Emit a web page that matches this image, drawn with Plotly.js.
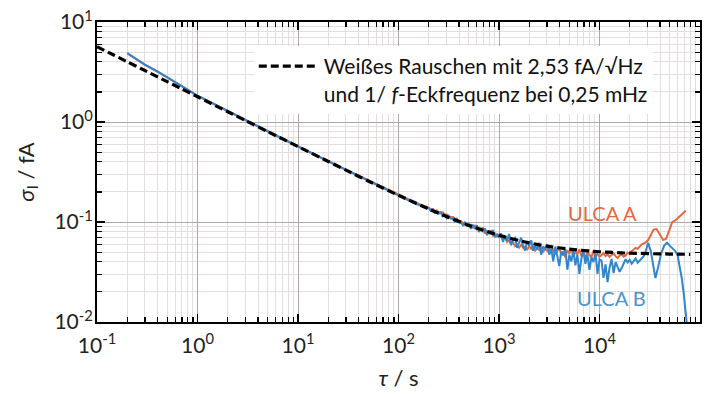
<!DOCTYPE html>
<html>
<head>
<meta charset="utf-8">
<script src="https://cdn.plot.ly/plotly-3.0.1.min.js"></script>
<style>html,body{margin:0;padding:0;background:#fff;}#chart{width:713px;height:397px;}</style>
</head>
<body>
<div id="chart"></div>
<script>
// Dashed reference curve: white noise 2.53 fA/sqrt(Hz), 1/f corner 0.25 mHz
const modelTau = [0.1, 0.15, 0.2, 0.3, 0.5, 0.7, 1, 2, 3, 5, 10, 20, 30, 50, 100, 200, 300, 500, 1000, 2000, 3000, 5000, 10000, 20000, 50000, 80000];
const modelSigma = [5.66, 4.62, 4.00, 3.27, 2.53, 2.14, 1.79, 1.266, 1.034, 0.801, 0.568, 0.403, 0.330, 0.257, 0.185, 0.135, 0.1135, 0.0928, 0.0736, 0.0618, 0.0573, 0.0535, 0.0504, 0.0488, 0.0478, 0.0475];

// ULCA B (blue)
const tauB = [0.2, 0.25, 0.3, 0.4, 0.5, 0.7, 1, 1.5, 2, 3, 5, 7, 10, 15, 20, 30, 50, 70, 100, 150,
  200, 209, 219, 229, 240, 251, 263, 275, 288, 302, 316, 331, 347, 363, 380, 398, 417, 437, 457, 479,
  501, 525, 550, 575, 603, 631, 661, 692, 724, 759, 794, 832, 871, 912, 955,
  1000, 1047, 1096, 1148, 1202, 1259, 1318, 1380, 1445, 1514, 1585, 1660, 1738, 1820, 1905, 1995,
  2089, 2188, 2291, 2399, 2512, 2630, 2754, 2884, 3020, 3162, 3311, 3467, 3631, 3802, 3981,
  4169, 4365, 4571, 4786, 5012, 5248, 5495, 5754, 6026, 6310, 6607, 6918, 7244, 7586, 7943,
  8318, 8710, 9120, 9550, 10000, 10471, 10965, 11482, 12023, 12589, 13183, 13804, 14454, 15136, 15849,
  16596, 17378, 18197, 19055, 19953, 20893, 21878, 22909, 23988, 25119, 26303, 27542, 28840,
  30500, 32500, 34500, 36000, 38000, 41000, 44000, 47000, 50000, 53000, 57000, 60000, 63000, 66000, 69000, 72000, 74000];
const sigmaB = [4.9, 4.25, 3.75, 3.2, 2.78, 2.28, 1.84, 1.49, 1.285, 1.04, 0.805, 0.678, 0.568, 0.465, 0.403, 0.330, 0.256, 0.217, 0.184, 0.151,
  0.1377, 0.1298, 0.1336, 0.1234, 0.1259, 0.1211, 0.1247, 0.1142, 0.1178, 0.1087, 0.1144, 0.1079, 0.1081, 0.1009, 0.1073, 0.0993, 0.0995, 0.0928, 0.0989, 0.0916,
  0.0947, 0.0857, 0.0942, 0.0856, 0.0929, 0.0794, 0.0857, 0.0794, 0.0864, 0.0738, 0.0815, 0.0756, 0.0829, 0.0704, 0.0753,
  0.0699, 0.0770, 0.0631, 0.0722, 0.0650, 0.0759, 0.0587, 0.0667, 0.0693, 0.0553, 0.0631, 0.0696, 0.0573, 0.0517, 0.0643, 0.0581,
  0.0656, 0.0516, 0.0577, 0.0530, 0.0621, 0.0469, 0.0570, 0.0531, 0.0596, 0.0472, 0.0536, 0.0404, 0.0568, 0.0442, 0.0363,
  0.0509, 0.0462, 0.0540, 0.0333, 0.0471, 0.0404, 0.0518, 0.0369, 0.0473, 0.0303, 0.0432, 0.0523, 0.0382, 0.0473, 0.0333,
  0.0444, 0.0397, 0.0487, 0.0303, 0.0423, 0.0412, 0.0276, 0.0376, 0.0250, 0.0349, 0.0428, 0.0308, 0.0397, 0.0356, 0.0317,
  0.0346, 0.0385, 0.0424, 0.0394, 0.0418, 0.0384, 0.0403, 0.0432, 0.0392, 0.0412, 0.0441, 0.0455, 0.0513,
  0.062, 0.050, 0.035, 0.0275, 0.034, 0.048, 0.058, 0.062, 0.058, 0.055, 0.051, 0.046, 0.036, 0.027, 0.019, 0.012, 0.0095];

// ULCA A (orange)
const tauA = [0.2, 0.25, 0.3, 0.4, 0.5, 0.7, 1, 1.5, 2, 3, 5, 7, 10, 15, 20, 30, 50, 70, 100, 150,
  200, 209, 219, 229, 240, 251, 263, 275, 288, 302, 316, 331, 347, 363, 380, 398, 417, 437, 457, 479,
  501, 525, 550, 575, 603, 631, 661, 692, 724, 759, 794, 832, 871, 912, 955,
  1000, 1047, 1096, 1148, 1202, 1259, 1318, 1380, 1445, 1514, 1585, 1660, 1738, 1820, 1905, 1995,
  2089, 2188, 2291, 2399, 2512, 2630, 2754, 2884, 3020, 3162, 3311, 3467, 3631, 3802, 3981,
  4169, 4365, 4571, 4786, 5012, 5248, 5495, 5754, 6026, 6310, 6607, 6918, 7244, 7586, 7943,
  8318, 8710, 9120, 9550, 10000, 10471, 10965, 11482, 12023, 12589, 13183, 13804, 14454, 15136, 15849,
  16596, 17378, 18197, 19055, 19953, 20893, 21878, 22909, 23988, 25119, 26303, 27542, 28840,
  30500, 32500, 34500, 37000, 40000, 43000, 46000, 50000, 53000, 57000, 61000, 66000, 70000, 72000];
const sigmaA = [4.85, 4.2, 3.72, 3.18, 2.76, 2.27, 1.83, 1.49, 1.285, 1.04, 0.806, 0.68, 0.570, 0.468, 0.407, 0.334, 0.262, 0.223, 0.189, 0.155,
  0.1391, 0.1337, 0.1349, 0.1297, 0.1309, 0.1260, 0.1247, 0.1248, 0.1190, 0.1189, 0.1155, 0.1112, 0.1124, 0.1083, 0.1073, 0.1023, 0.1025, 0.0977, 0.0979, 0.0935,
  0.0937, 0.0939, 0.0879, 0.0917, 0.0842, 0.0871, 0.0832, 0.0868, 0.0782, 0.0810, 0.0767, 0.0810, 0.0730, 0.0757, 0.0716,
  0.0751, 0.0704, 0.0667, 0.0708, 0.0629, 0.0656, 0.0600, 0.0627, 0.0573, 0.0592, 0.0553, 0.0592, 0.0554, 0.0568, 0.0524, 0.0575,
  0.0539, 0.0577, 0.0517, 0.0548, 0.0526, 0.0563, 0.0506, 0.0537, 0.0516, 0.0552, 0.0496, 0.0539, 0.0473, 0.0514, 0.0545,
  0.0476, 0.0510, 0.0443, 0.0521, 0.0482, 0.0532, 0.0455, 0.0501, 0.0478, 0.0532, 0.0458, 0.0487, 0.0433, 0.0504, 0.0471,
  0.0444, 0.0514, 0.0456, 0.0480, 0.0449, 0.0468, 0.0487, 0.0456, 0.0475, 0.0449, 0.0468, 0.0487, 0.0456, 0.0436, 0.0460,
  0.0474, 0.0450, 0.0463, 0.0493, 0.0477, 0.0512, 0.0530, 0.0550, 0.0539, 0.0568, 0.0598, 0.0611, 0.0626,
  0.066, 0.076, 0.084, 0.085, 0.074, 0.066, 0.068, 0.085, 0.100, 0.104, 0.110, 0.120, 0.126, 0.130];

const xTickVals = [0.1, 1, 10, 100, 1000, 10000, 100000];
const xTickText = ['10<sup>-1</sup>', '10<sup>0</sup>', '10<sup>1</sup>', '10<sup>2</sup>', '10<sup>3</sup>', '10<sup>4</sup>', '10<sup>5</sup>'];
const yTickVals = [0.01, 0.1, 1, 10];
const yTickText = ['10<sup>-2</sup>', '10<sup>-1</sup>', '10<sup>0</sup>', '10<sup>1</sup>'];

const legendText = 'Weißes Rauschen mit 2,53 fA/√Hz<br>und 1/ <i>f</i>-Eckfrequenz bei 0,25 mHz';
const labelA = 'ULCA A';
const labelB = 'ULCA B';

// minor tick positions (2..9 within each decade)
function minorTicks(decades) {
  const out = [];
  decades.forEach(d => { for (let k = 2; k <= 9; k++) out.push(+(d * k).toPrecision(3)); });
  return out;
}
const xMinor = minorTicks(xTickVals.slice(0, -1));
const yMinor = minorTicks(yTickVals.slice(0, -1));

const orange = '#E4683E';
const blue = '#2F86CC';
const FONT = 'Lato, "Open Sans", "DejaVu Sans", sans-serif';

const traces = [
  {x: tauA, y: sigmaA, type: 'scatter', mode: 'lines', line: {color: orange, width: 2}, showlegend: false, hoverinfo: 'skip'},
  {x: tauB, y: sigmaB, type: 'scatter', mode: 'lines', line: {color: blue, width: 2}, showlegend: false, hoverinfo: 'skip'},
  {x: modelTau, y: modelSigma, type: 'scatter', mode: 'lines', name: legendText,
   line: {color: '#000', width: 3.2, dash: '8px,4px', shape: 'spline', smoothing: 0.6}, showlegend: true}
];

function axis(extra) {
  return Object.assign({
    type: 'log',
    showline: true, linecolor: '#000', linewidth: 2, mirror: 'allticks',
    ticks: 'inside', ticklen: 8, tickwidth: 1.4, tickcolor: '#000',
    showgrid: true, gridcolor: '#b0a8a8', gridwidth: 1,
    zeroline: false,
    tickmode: 'array',
    tickfont: {family: FONT, size: 21, color: '#222'}
  }, extra);
}

const layout = {
  width: 713, height: 397,
  margin: {l: 97, r: 13, t: 22, b: 75},
  paper_bgcolor: '#fff', plot_bgcolor: '#fff',
  font: {family: FONT, color: '#222'},
  xaxis: axis({
    range: [-1, 5], tickvals: xTickVals, ticktext: xTickText, ticklabelstandoff: 4,
    minor: {tickmode: 'array', tickvals: xMinor, ticks: 'inside', ticklen: 5, tickwidth: 1.2, tickcolor: '#000', showgrid: true, gridcolor: '#e2dede', gridwidth: 1},
    title: {text: '<i>τ</i> / s', font: {family: FONT, size: 22, color: '#222'}, standoff: 14}
  }),
  yaxis: axis({
    range: [-2, 1], tickvals: yTickVals, ticktext: yTickText, ticklabelstandoff: -2,
    minor: {tickmode: 'array', tickvals: yMinor, ticks: 'inside', ticklen: 5, tickwidth: 1.2, tickcolor: '#000', showgrid: true, gridcolor: '#e2dede', gridwidth: 1},
    title: {text: '<i>σ</i><sub>I</sub> / fA', font: {family: FONT, size: 22, color: '#222'}, standoff: 14}
  }),
  showlegend: true,
  legend: {
    x: 0.26, y: 0.92, xanchor: 'left', yanchor: 'top',
    bgcolor: '#fff', borderwidth: 0, valign: 'top',
    font: {family: FONT, size: 21, color: '#111'},
    itemwidth: 60
  },
  annotations: [
    {x: 4.025, y: -0.91, xref: 'x', yref: 'y', text: labelA, showarrow: false, font: {family: FONT, size: 20, color: orange}},
    {x: 4.124, y: -1.76, xref: 'x', yref: 'y', text: labelB, showarrow: false, font: {family: FONT, size: 20, color: '#4B93CC'}}
  ]
};

Plotly.newPlot('chart', traces, layout, {staticPlot: true, displayModeBar: false});
</script>
</body>
</html>
